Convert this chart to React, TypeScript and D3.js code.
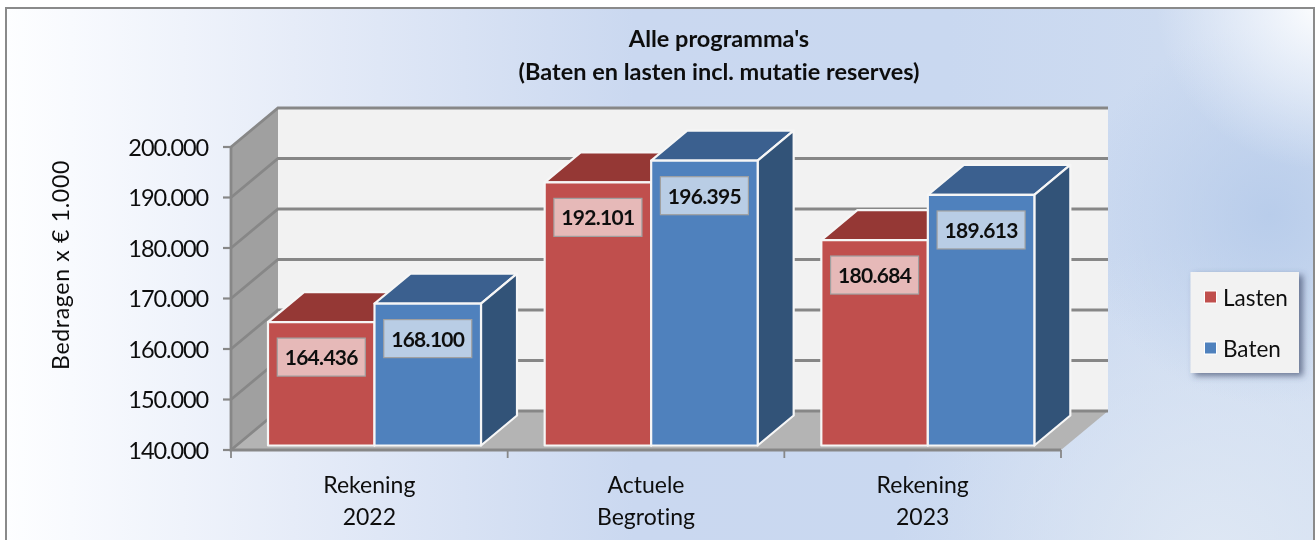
import React from "react";
import * as d3 from "d3";

const categories = [["Rekening", "2022"], ["Actuele", "Begroting"], ["Rekening", "2023"]];
const lasten = [164436, 192101, 180684];
const baten = [168100, 196395, 189613];
const seriesNames = ["Lasten", "Baten"];
const seriesValues = [lasten, baten];
const seriesColors = [
  { front: "#c0504d", top: "#953735", side: "#7f3230", label: "#e6b9b8" },
  { front: "#4f81bd", top: "#3b618f", side: "#325278", label: "#b9cde5" },
];
const yTicks = [140000, 150000, 160000, 170000, 180000, 190000, 200000];
const titleLines = ["Alle programma's", "(Baten en lasten incl. mutatie reserves)"];
const yTitle = "Bedragen x € 1.000";

const FONT = "Lato, 'Open Sans', sans-serif";
const fmt = (v: number) => d3.format(",.0f")(v).replace(/,/g, ".");

export default function App() {
  const y = d3.scaleLinear().domain([140000, 200000]).range([450, 147]);
  const x = d3.scaleBand<number>().domain([0, 1, 2]).range([231, 1061]);
  const wallDx = 47, wallDy = -39;
  const barDx = 36, barDy = -30;
  const baseUp = 4.5;
  const inset = 37;
  const barW = 106.5;
  const [x0, x1] = x.range();
  const grey = "#878787";

  const barLeft = (i: number, s: number) => x(i)! + inset + s * barW;

  const box = (v: number, i: number, s: number) => {
    const left = barLeft(i, s);
    const right = left + barW;
    const top = y(v) - baseUp;
    const bottom = y(140000) - baseUp;
    const c = seriesColors[s];
    return (
      <g key={`${s}-${i}`} stroke="#f6f6f6" strokeWidth={2.2} strokeLinejoin="round">
        <path d={`M${left},${top}L${left + barDx},${top + barDy}L${right + barDx},${top + barDy}L${right},${top}Z`} fill={c.top} />
        <path d={`M${right},${top}L${right + barDx},${top + barDy}L${right + barDx},${bottom + barDy}L${right},${bottom}Z`} fill={c.side} />
        <rect x={left} y={top} width={barW} height={bottom - top} fill={c.front} />
      </g>
    );
  };

  const label = (v: number, i: number, s: number) => {
    const w = 88, h = 38;
    const lx = barLeft(i, s) + barW / 2 - w / 2;
    const ly = y(v) - baseUp + 16;
    return (
      <g key={`l${s}-${i}`}>
        <rect x={lx} y={ly} width={w} height={h} fill={seriesColors[s].label} stroke="#a0a0a0" strokeWidth={1.2} />
        <text x={lx + w / 2} y={ly + h / 2 + 8} textAnchor="middle" fontSize={21} fontWeight={700} letterSpacing={-0.7} fill="#111">{fmt(v)}</text>
      </g>
    );
  };

  return (
    <svg width={1315} height={540} style={{ position: "absolute", left: 0, top: 0, display: "block", fontVariantLigatures: "none" }} fontFamily={FONT}>
      <defs>
        <linearGradient id="bgBase" x1="0" x2="1" y1="0" y2="0">
          <stop offset="0" stopColor="#fdfeff" />
          <stop offset="0.05" stopColor="#f8fafe" />
          <stop offset="0.22" stopColor="#e6ecf8" />
          <stop offset="0.48" stopColor="#cad8f0" />
          <stop offset="0.72" stopColor="#c9d8f0" />
          <stop offset="1" stopColor="#d0ddf1" />
        </linearGradient>
        <radialGradient id="bgCorner" gradientUnits="userSpaceOnUse" cx={1325} cy={0} r={170}>
          <stop offset="0" stopColor="#ffffff" stopOpacity={1} />
          <stop offset="0.5" stopColor="#f2f6fc" stopOpacity={0.6} />
          <stop offset="1" stopColor="#eef3fb" stopOpacity={0} />
        </radialGradient>
        <radialGradient id="bgSpot" gradientUnits="userSpaceOnUse" cx={1270} cy={215} r={190}>
          <stop offset="0" stopColor="#b6cbea" stopOpacity={0.9} />
          <stop offset="1" stopColor="#b6cbea" stopOpacity={0} />
        </radialGradient>
        <radialGradient id="bgLow" gradientUnits="userSpaceOnUse" cx={1210} cy={560} r={320}>
          <stop offset="0" stopColor="#dfe8f4" stopOpacity={0.95} />
          <stop offset="1" stopColor="#dfe8f4" stopOpacity={0} />
        </radialGradient>
        <filter id="soft" x="-5%" y="-5%" width="110%" height="110%">
          <feGaussianBlur stdDeviation="0.5" />
        </filter>
        <filter id="shadow" x="-15%" y="-15%" width="130%" height="130%">
          <feDropShadow dx="4" dy="3" stdDeviation="3" floodColor="#3f4e6c" floodOpacity="0.7" />
        </filter>
      </defs>
      <rect width={1315} height={540} fill="#fff" />
      <rect x={6} y={8} width={1308} height={540} fill="url(#bgBase)" />
      <rect x={6} y={8} width={1308} height={540} fill="url(#bgLow)" />
      <rect x={6} y={8} width={1308} height={540} fill="url(#bgSpot)" />
      <rect x={6} y={8} width={1308} height={540} fill="url(#bgCorner)" />
      <rect x={6} y={8} width={1308} height={540} fill="none" stroke="#8a8a8a" strokeWidth={2} />
      <g filter="url(#soft)">
        {/* walls */}
        <path d={`M${x0},${y(200000)}L${x0 + wallDx},${y(200000) + wallDy}L${x0 + wallDx},${y(140000) + wallDy}L${x0},${y(140000)}Z`} fill="#a0a0a0" />
        <rect x={x0 + wallDx} y={y(200000) + wallDy} width={x1 - x0} height={y(140000) - y(200000)} fill="#f2f2f2" />
        <path d={`M${x0},${y(140000)}L${x0 + wallDx},${y(140000) + wallDy}L${x1 + wallDx},${y(140000) + wallDy}L${x1},${y(140000)}Z`} fill="#b4b4b4" />
        {/* gridlines */}
        {yTicks.map((t) => (
          <path key={t} d={`M${x0},${y(t)}L${x0 + wallDx},${y(t) + wallDy}L${x1 + wallDx},${y(t) + wallDy}`} fill="none" stroke={grey} strokeWidth={2.8} />
        ))}
        {/* axes */}
        <path d={`M${x0},${y(200000)}L${x0},${y(140000)}L${x1},${y(140000)}`} fill="none" stroke={grey} strokeWidth={2.8} />
        {yTicks.map((t) => (
          <line key={t} x1={x0 - 8} x2={x0} y1={y(t)} y2={y(t)} stroke={grey} strokeWidth={2.2} />
        ))}
        {[0, 1, 2, 3].map((i) => {
          const tx = i < 3 ? x(i)! : x1;
          return <line key={i} x1={tx} x2={tx} y1={y(140000)} y2={y(140000) + 8} stroke={grey} strokeWidth={1.8} />;
        })}
        {/* bars */}
        {categories.map((_, i) => seriesValues.map((vals, s) => box(vals[i], i, s)))}
        {categories.map((_, i) => seriesValues.map((vals, s) => label(vals[i], i, s)))}
        {/* tick labels */}
        {yTicks.map((t) => (
          <text key={t} x={208} y={y(t) + 8.5} textAnchor="end" fontSize={23.5} letterSpacing={-1.1} fill="#111">{fmt(t)}</text>
        ))}
        {categories.map((c, i) => (
          <text key={i} textAnchor="middle" fontSize={23} fill="#111">
            <tspan x={x(i)! + x.bandwidth() / 2} y={493}>{c[0]}</tspan>
            <tspan x={x(i)! + x.bandwidth() / 2} y={525}>{c[1]}</tspan>
          </text>
        ))}
        <text transform="translate(69,265) rotate(-90)" textAnchor="middle" fontSize={23} letterSpacing={0.7} fill="#111">{yTitle}</text>
        <text textAnchor="middle" fontSize={23.5} fontWeight={700} fill="#111">
          <tspan x={719} y={47}>{titleLines[0]}</tspan>
          <tspan x={719} y={80}>{titleLines[1]}</tspan>
        </text>
        {/* legend */}
        <rect x={1190.5} y={272} width={108.5} height={101} fill="#f2f2f2" filter="url(#shadow)" />
        {seriesNames.map((n, i) => (
          <g key={n}>
            <rect x={1204.5} y={291 + i * 51} width={12} height={12} fill={seriesColors[i].front} stroke="#fff" strokeWidth={1} />
            <text x={1223} y={306 + i * 51} fontSize={22.5} fill="#111">{n}</text>
          </g>
        ))}
      </g>
    </svg>
  );
}
